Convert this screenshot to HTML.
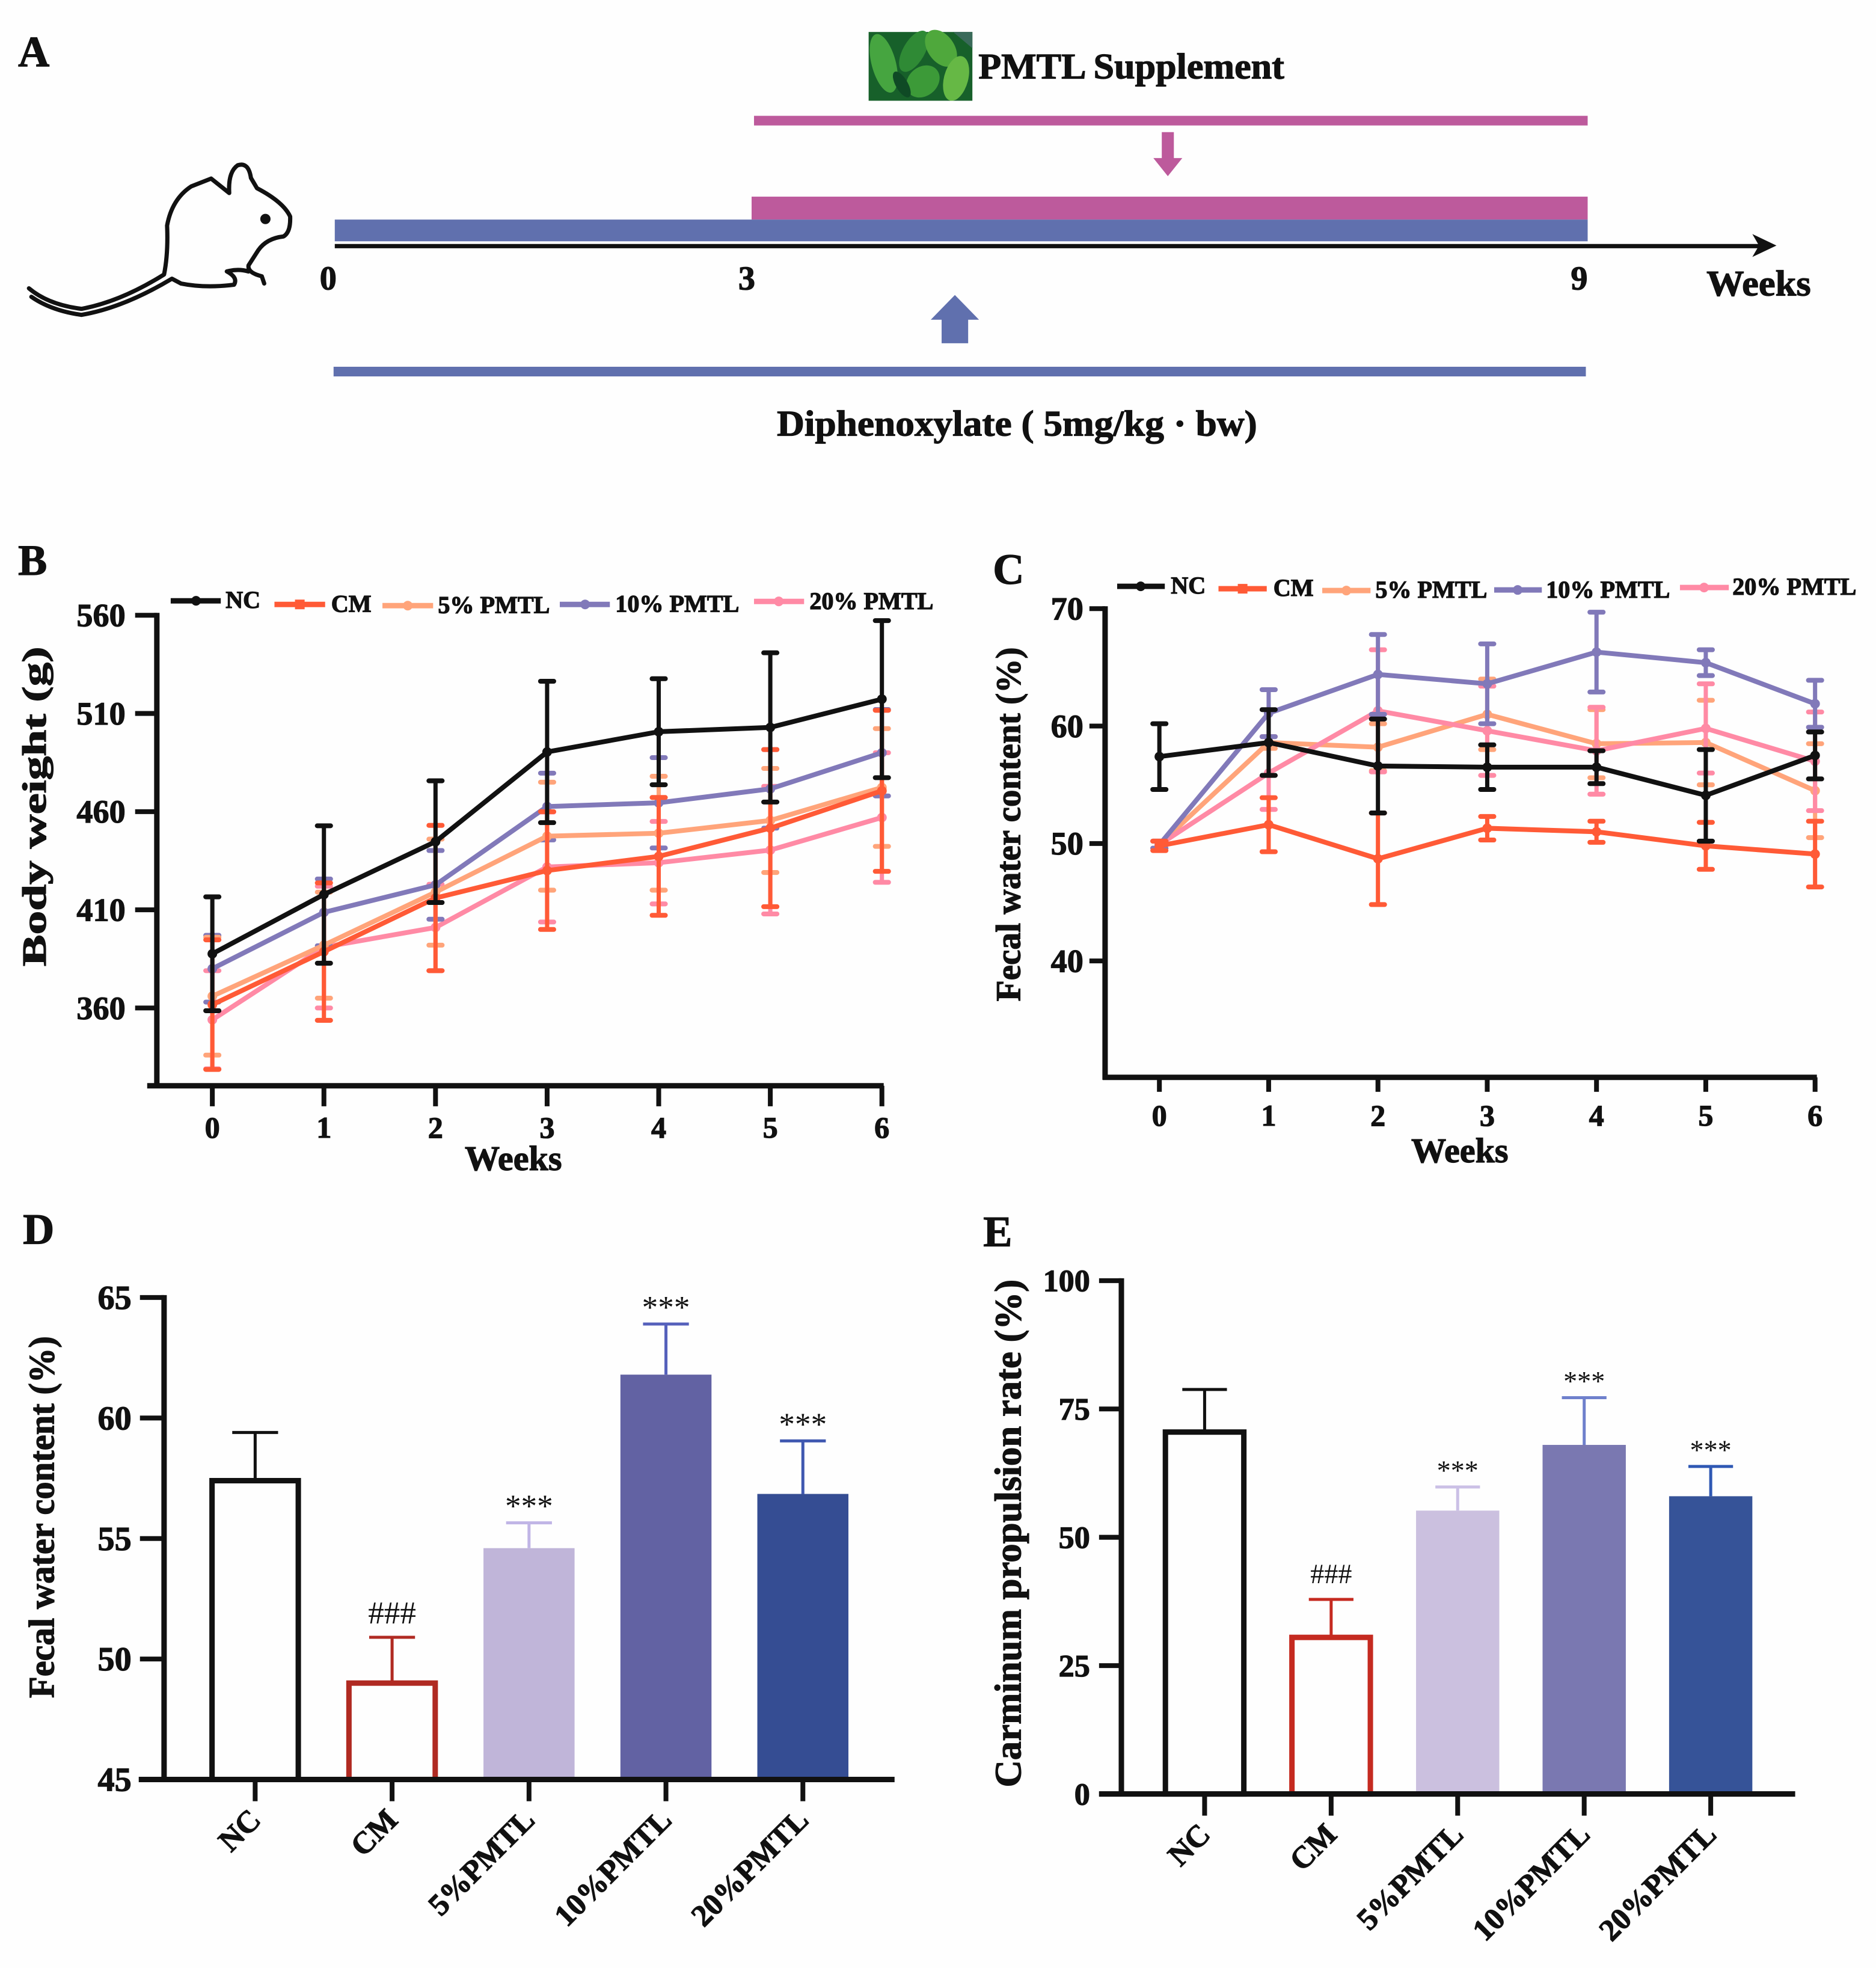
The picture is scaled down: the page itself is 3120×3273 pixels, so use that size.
<!DOCTYPE html>
<html>
<head>
<meta charset="utf-8">
<title>PMTL figure</title>
<style>
html,body{margin:0;padding:0;background:#fefefe;}
svg{display:block;}
text{font-family:"Liberation Serif",serif;font-weight:bold;fill:#111;stroke:#111;stroke-width:1.2px;}
</style>
</head>
<body>
<svg id="fig" xmlns="http://www.w3.org/2000/svg" width="3120" height="3273" viewBox="0 0 3110 3262.5">
<rect x="0" y="0" width="3110" height="3263" fill="#fefefe"/>

<g>
  <text x="30" y="110" font-size="72">A</text>
  <g>
    <rect x="1440" y="53" width="172" height="114" fill="#17602a"/>
    <ellipse cx="1465" cy="105" rx="20" ry="50" transform="rotate(-15 1465 105)" fill="#46a540"/>
    <ellipse cx="1515" cy="85" rx="18" ry="38" transform="rotate(30 1515 85)" fill="#2f8a35"/>
    <ellipse cx="1560" cy="80" rx="22" ry="34" transform="rotate(-35 1560 80)" fill="#4fa83c"/>
    <ellipse cx="1585" cy="130" rx="20" ry="38" transform="rotate(15 1585 130)" fill="#66b845"/>
    <ellipse cx="1530" cy="135" rx="24" ry="30" transform="rotate(50 1530 135)" fill="#3c9a38"/>
    <ellipse cx="1495" cy="140" rx="10" ry="24" transform="rotate(-30 1495 140)" fill="#0f4a25"/>
    <polygon points="1580,53 1612,53 1612,80" fill="#3a6a5a"/>
  </g>
  <text x="1622" y="130" font-size="60" textLength="507" lengthAdjust="spacingAndGlyphs">PMTL Supplement</text>
  <rect x="1250" y="192" width="1382" height="16" fill="#bd5a9c"/>
  <polygon points="1926,219 1946,219 1946,262 1960,262 1936,292 1912,262 1926,262" fill="#bd5a9c"/>
  <rect x="1246" y="326" width="1386" height="38" fill="#bd5a9c"/>
  <rect x="555" y="364" width="2077" height="36" fill="#6070ae"/>
  <line x1="555" y1="408" x2="2925" y2="408" stroke="#111" stroke-width="7"/>
  <polygon points="2905,388 2945,407 2905,426 2916,407" fill="#111"/>
  <text x="544" y="480" font-size="56" text-anchor="middle">0</text>
  <text x="1238" y="480" font-size="56" text-anchor="middle">3</text>
  <text x="2618" y="480" font-size="56" text-anchor="middle">9</text>
  <text x="2829" y="490" font-size="60" textLength="173" lengthAdjust="spacingAndGlyphs">Weeks</text>
  <polygon points="1583,489 1623,530 1605,530 1605,569 1561,569 1561,530 1543,530" fill="#6070ae"/>
  <rect x="553" y="608" width="2076" height="16" fill="#6070ae"/>
  <text x="1288" y="722" font-size="60" textLength="796" lengthAdjust="spacingAndGlyphs">Diphenoxylate ( 5mg/kg · bw)</text>
  <g fill="none" stroke="#111" stroke-width="7" stroke-linecap="round" stroke-linejoin="round">
    <path d="M48,478 Q80,505 135,512 Q200,500 272,455 Q279,420 277,374 Q285,330 317,309 L350,296 L380,320 Q378,285 394,274 Q412,268 416,295 L426,312 Q470,335 481,359 Q482,385 470,392 Q442,395 428,415 L412,440 Q410,452 434,458 L438,470"/>
    <path d="M52,492 Q85,515 135,522 Q205,510 285,462 L300,470 Q340,478 388,472 Q395,460 376,450 Q395,445 412,450"/>
    <circle cx="440" cy="363" r="5" fill="#111"/>
  </g>
</g>

<g>
  <text x="30" y="953" font-size="72">B</text>
  <line x1="283" y1="996" x2="366" y2="996" stroke="#111" stroke-width="9"/>
  <circle cx="325" cy="996" r="8" fill="#111"/>
  <text x="374" y="1008" font-size="40">NC</text>
  <line x1="455" y1="1002" x2="539" y2="1002" stroke="#ff5a36" stroke-width="9"/>
  <rect x="489" y="994" width="16" height="16" fill="#ff5a36"/>
  <text x="549" y="1014" font-size="40">CM</text>
  <line x1="634" y1="1004" x2="718" y2="1004" stroke="#ffa47a" stroke-width="9"/>
  <circle cx="676" cy="1004" r="8" fill="#ffa47a"/>
  <text x="726" y="1016" font-size="40">5% PMTL</text>
  <line x1="928" y1="1002" x2="1011" y2="1002" stroke="#8179b9" stroke-width="9"/>
  <circle cx="970" cy="1002" r="8" fill="#8179b9"/>
  <text x="1020" y="1014" font-size="40">10% PMTL</text>
  <line x1="1250" y1="997" x2="1333" y2="997" stroke="#ff8aa5" stroke-width="9"/>
  <circle cx="1291" cy="997" r="8" fill="#ff8aa5"/>
  <text x="1342" y="1010" font-size="40">20% PMTL</text>
</g>

<g>
  <text x="1646" y="968" font-size="72">C</text>
  <line x1="1852" y1="972" x2="1931" y2="972" stroke="#111" stroke-width="9"/>
  <circle cx="1891" cy="972" r="8" fill="#111"/>
  <text x="1941" y="984" font-size="40">NC</text>
  <line x1="2020" y1="976" x2="2100" y2="976" stroke="#ff5a36" stroke-width="9"/>
  <rect x="2052" y="968" width="16" height="16" fill="#ff5a36"/>
  <text x="2111" y="988" font-size="40">CM</text>
  <line x1="2192" y1="979" x2="2272" y2="979" stroke="#ffa47a" stroke-width="9"/>
  <circle cx="2232" cy="979" r="8" fill="#ffa47a"/>
  <text x="2280" y="991" font-size="40">5% PMTL</text>
  <line x1="2477" y1="978" x2="2556" y2="978" stroke="#8179b9" stroke-width="9"/>
  <circle cx="2516" cy="978" r="8" fill="#8179b9"/>
  <text x="2563" y="991" font-size="40">10% PMTL</text>
  <line x1="2785" y1="974" x2="2866" y2="974" stroke="#ff8aa5" stroke-width="9"/>
  <circle cx="2825" cy="974" r="8" fill="#ff8aa5"/>
  <text x="2872" y="986" font-size="40">20% PMTL</text>
</g>

<text x="38" y="2062" font-size="72">D</text>
<text x="1630" y="2066" font-size="72">E</text>

<text transform="translate(76,1602) rotate(-90)" font-size="56" textLength="530" lengthAdjust="spacingAndGlyphs">Body weight (g)</text>
<text x="851" y="1940" font-size="58" text-anchor="middle">Weeks</text>
<text transform="translate(1691,1660) rotate(-90)" font-size="58" textLength="587" lengthAdjust="spacingAndGlyphs">Fecal water content (%)</text>
<text x="2420" y="1927" font-size="58" text-anchor="middle">Weeks</text>
<text transform="translate(89,2815) rotate(-90)" font-size="60" textLength="600" lengthAdjust="spacingAndGlyphs">Fecal water content (%)</text>
<text transform="translate(1692,2963) rotate(-90)" font-size="62" textLength="842" lengthAdjust="spacingAndGlyphs">Carminum propulsion rate (%)</text>
</svg>

<script>
// Shared categories
const weeks = ['0','1','2','3','4','5','6'];
const groups = ['NC','CM','5%PMTL','10%PMTL','20%PMTL'];

// Panel B: body weight
const bTicks = [560,510,460,410,360];
const bNC   = [387.6,417.8,444.7,490.4,500.7,502.9,517.3];
const bNCsd = [29,35,31,36,27,38,40];
const bCM   = [361.7,388.7,416,430,437.2,451.6,470.6];
const bCMsd = [33,35,37,30,30,40,41];
const b5    = [366,392,419,447.5,449,455.5,472.3];
const b5sd  = [30,27,27,27.5,29,26.5,30];
const b10   = [380,408.7,422.7,462.6,464.5,471.6,490];
const b10sd = [17,17,17.5,17,23,20,22];
const b20   = [354,391,401,431.8,434,440.4,457];
const b20sd = [25,31,22,28,21,32.5,33];

// Panel C: fecal water content by week
const cTicks = [70,60,50,40];
const cNC   = [57.4,58.6,56.6,56.5,56.5,54.1,57.5];
const cNCsd = [2.8,2.8,4,1.9,1.4,3.9,2];
const cCM   = [49.8,51.6,48.7,51.3,51,49.8,49.1];
const cCMsd = [0.4,2.3,3.9,1,0.9,2,2.8];
const c5    = [49.9,58.6,58.2,61,58.5,58.6,54.5];
const c5sd  = [0.3,0.5,2,3,2.9,3.6,4];
const c10   = [49.9,61.1,64.4,63.6,66.3,65.4,61.9];
const c10sd = [0.3,2,3.4,3.4,3.4,1.1,2];
const c20   = [49.9,56,61.3,59.6,57.9,59.8,57];
const c20sd = [0.3,3.1,5.2,3.8,3.7,3.8,4.2];

// Panel D: fecal water content
const dTicks = [65,60,55,50,45];
const dMeans = [57.4,49,54.6,61.8,56.85];
const dErr   = [2,1.9,1.05,2.1,2.2];
const dMarks = ['','###','***','***','***'];

// Panel E: carminum propulsion rate
const eTicks = [100,75,50,25,0];
const eMeans = [70.5,30.5,55.2,68,58];
const eErr   = [8.3,7.4,4.6,9.2,5.8];
const eMarks = ['','###','***','***','***'];

const NS = 'http://www.w3.org/2000/svg';
const fig = document.getElementById('fig');
function mk(tag, parent){
  const el = document.createElementNS(NS, tag);
  (parent||fig).appendChild(el);
  return el;
}
function setAll(el, o){ for(const k in o){ el.setAttribute(k, o[k]); } return el; }
function scale(d0,d1,r0,r1){ return v => r0+(v-d0)*(r1-r0)/(d1-d0); }

function drawAxes(name, xLeft, yTop, yBottom, xStart, xEnd, yScale, ticks, fontSize, tickLen, labelGap){
  const g = mk('g');
  
  
  const ya = mk('line', g);
  
  
  setAll(ya,{x1:xLeft,y1:yTop-4,x2:xLeft,y2:yBottom+4,stroke:'#111','stroke-width':9});
  const xa = mk('line', g);
  
  
  setAll(xa,{x1:xStart,y1:yBottom,x2:xEnd,y2:yBottom,stroke:'#111','stroke-width':9});
  ticks.forEach(t=>{
    const y = yScale(t);
    const tk = mk('line', g);
    
    
    setAll(tk,{x1:xLeft-tickLen,y1:y,x2:xLeft,y2:y,stroke:'#111','stroke-width':8});
    const lb = mk('text', g);
    
    
    setAll(lb,{x:xLeft-labelGap,y:y+fontSize*0.34,'text-anchor':'end','font-size':fontSize});
    lb.textContent = t;
  });
}

function drawLines(name, xScale, yScale, yBottom, tickLen, labelOff, series){
  const g = mk('g');
  
  
  weeks.forEach((w,i)=>{
    const x = xScale(i);
    const tk = mk('line', g);
    
    
    setAll(tk,{x1:x,y1:yBottom,x2:x,y2:yBottom+tickLen,stroke:'#111','stroke-width':8});
    const lb = mk('text', g);
    
    
    setAll(lb,{x:x,y:yBottom+labelOff,'text-anchor':'middle','font-size':50});
    lb.textContent = w;
  });
  series.forEach(s=>{
    const sg = mk('g', g);
    
    
    s.mean.forEach((m,i)=>{
      const x = xScale(i), hi = yScale(m+s.sd[i]), lo = yScale(m-s.sd[i]);
      const st = mk('line', sg);
      
      
      setAll(st,{x1:x,y1:hi,x2:x,y2:lo,stroke:s.color,'stroke-width':7});
      [hi,lo].forEach(cy=>{
        const c = mk('line', sg);
        
        
        setAll(c,{x1:x-11,y1:cy,x2:x+11,y2:cy,stroke:s.color,'stroke-width':8,'stroke-linecap':'round'});
      });
    });
    const pl = mk('polyline', sg);
    
    
    setAll(pl,{points:s.mean.map((m,i)=>xScale(i)+','+yScale(m)).join(' '),fill:'none',stroke:s.color,'stroke-width':8,'stroke-linejoin':'round'});
    s.mean.forEach((m,i)=>{
      const p = mk('circle', sg);
      
      
      setAll(p,{cx:xScale(i),cy:yScale(m),r:8,fill:s.color});
    });
  });
}

function drawBars(name, xScale, yScale, yBottom, means, errs, marks, styles, barW, capW, markFont, starOff, hashOff){
  const g = mk('g');
  
  
  means.forEach((m,i)=>{
    const st = styles[i], x = xScale(i), yT = yScale(m), yE = yScale(m+errs[i]);
    const eb = mk('line', g);
    
    
    setAll(eb,{x1:x,y1:yT,x2:x,y2:yE,stroke:st.err,'stroke-width':5});
    const cap = mk('line', g);
    
    
    setAll(cap,{x1:x-capW/2,y1:yE,x2:x+capW/2,y2:yE,stroke:st.err,'stroke-width':5});
    const r = mk('rect', g);
    
    
    if(st.open){
      setAll(r,{x:x-barW/2+4,y:yT,width:barW-8,height:yBottom-yT,fill:'#fefefe',stroke:st.err,'stroke-width':9});
    }else{
      setAll(r,{x:x-barW/2,y:yT,width:barW,height:yBottom-yT,fill:st.fill});
    }
    const tk = mk('line', g);
    
    
    setAll(tk,{x1:x,y1:yBottom,x2:x,y2:yBottom+36,stroke:'#111','stroke-width':8});
    const lb = mk('text', g);
    
    
    const ax = x+12, ay = yBottom+70;
    setAll(lb,{transform:'translate('+ax+','+ay+') rotate(-45)','text-anchor':'end','font-size':51});
    lb.textContent = groups[i];
    if(marks[i]){
      const mt = mk('text', g);
      
      
      const off = marks[i].charAt(0)==='#' ? hashOff : starOff;
      setAll(mt,{x:x,y:yE-off,'text-anchor':'middle','font-size':markFont});
      mt.style.fontWeight = 'normal';
      mt.style.stroke = 'none';
      mt.textContent = marks[i];
    }
  });
}

// Panel B
const bX = scale(0,6,352,1462);
const bY = scale(360,560,1671,1020);
drawAxes('b',260,1020,1800,244,1465,bY,bTicks,54,36,52);
drawLines('b',bX,bY,1800,34,86,[
  {name:'20-pmtl',mean:b20,sd:b20sd,color:'#ff8aa5'},
  {name:'10-pmtl',mean:b10,sd:b10sd,color:'#8179b9'},
  {name:'5-pmtl',mean:b5,sd:b5sd,color:'#ffa47a'},
  {name:'cm',mean:bCM,sd:bCMsd,color:'#ff5a36'},
  {name:'nc',mean:bNC,sd:bNCsd,color:'#111'}
]);

// Panel C
const cX = scale(0,6,1922,3009);
const cY = scale(40,70,1593,1009);
drawAxes('c',1832,1009,1786,1828,3012,cY,cTicks,54,26,36);
drawLines('c',cX,cY,1786,24,80,[
  {name:'5-pmtl',mean:c5,sd:c5sd,color:'#ffa47a'},
  {name:'20-pmtl',mean:c20,sd:c20sd,color:'#ff8aa5'},
  {name:'10-pmtl',mean:c10,sd:c10sd,color:'#8179b9'},
  {name:'cm',mean:cCM,sd:cCMsd,color:'#ff5a36'},
  {name:'nc',mean:cNC,sd:cNCsd,color:'#111'}
]);

// Panel D
const dX = scale(0,4,423,1331);
const dY = scale(45,65,2950,2151);
drawBars('d',dX,dY,2950,dMeans,dErr,dMarks,[
  {open:true,err:'#111'},
  {open:true,err:'#b02a22'},
  {fill:'#c0b5d9',err:'#c0b5e6'},
  {fill:'#6262a3',err:'#5560bb'},
  {fill:'#354d93',err:'#3f58b0'}
],151,76,53,10,23);
drawAxes('d',272,2151,2950,230,1483,dY,dTicks,56,40,54);

// Panel E
const eX = scale(0,4,1997,2836);
const eY = scale(0,100,2974,2123);
drawBars('e',eX,eY,2974,eMeans,eErr,eMarks,[
  {open:true,err:'#111'},
  {open:true,err:'#c52a20'},
  {fill:'#cbc0df',err:'#cbc0e6'},
  {fill:'#7a78b1',err:'#6f80cc'},
  {fill:'#365398',err:'#2f58b4'}
],138,74,46,12,27);
drawAxes('e',1859,2123,2974,1822,2976,eY,eTicks,52,37,52);
</script>
</body>
</html>
